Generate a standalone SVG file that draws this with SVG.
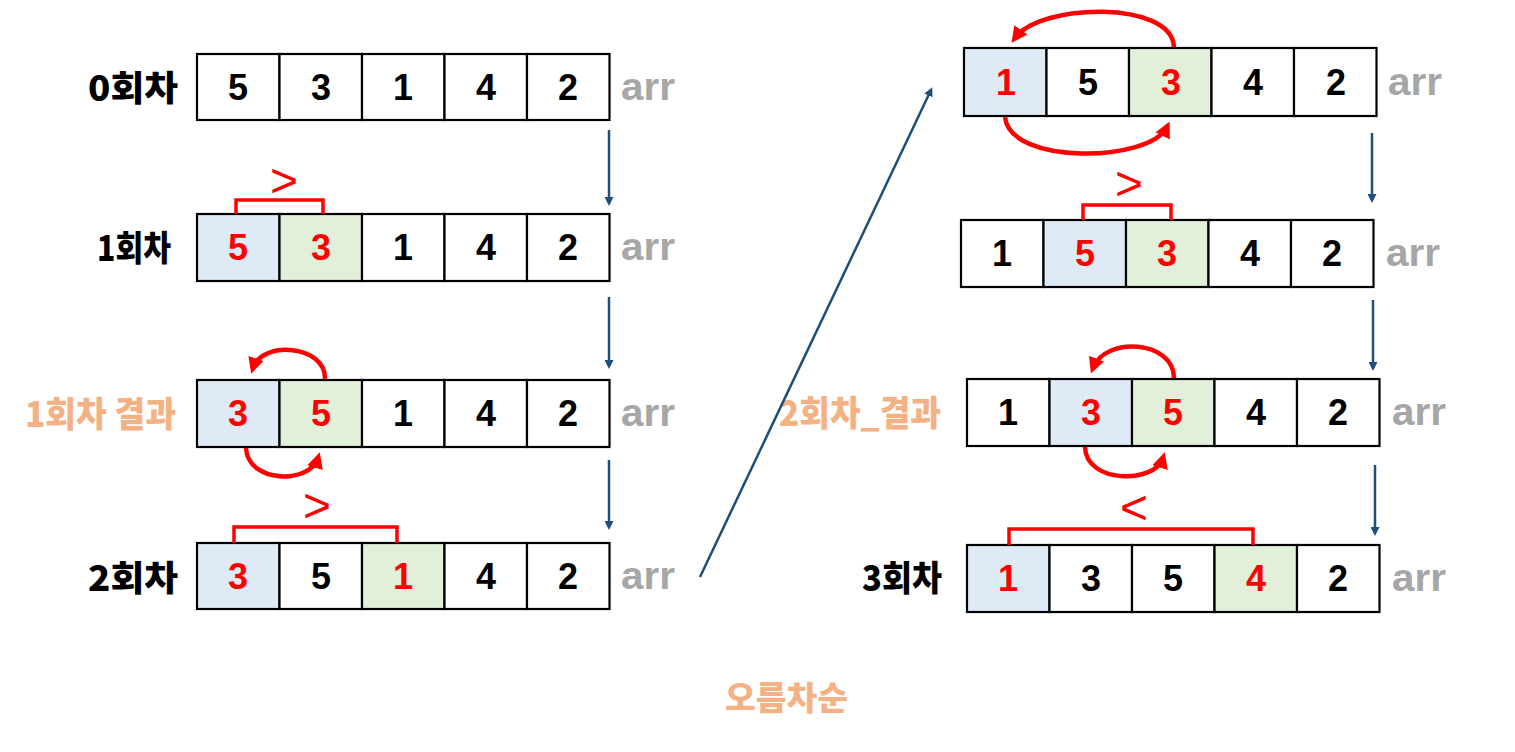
<svg xmlns="http://www.w3.org/2000/svg" width="1515" height="752" viewBox="0 0 1515 752">
<style>
.cell{fill:#fff;stroke:#000;stroke-width:2.2}
.b{fill:#DEEBF7}
.g{fill:#E2F0D9}
.n{font-family:"Liberation Sans",Arial,sans-serif;font-weight:bold;font-size:36px;text-anchor:middle;fill:#000}
.r{fill:#FF0000}
.arr{font-family:"Liberation Sans",Arial,sans-serif;font-weight:bold;font-size:38px;fill:#A6A6A6}
.lbl{font-family:"Noto Sans CJK KR","Noto Sans",sans-serif;font-weight:900;font-size:35px;text-anchor:end;fill:#000}
.or{fill:#F4B183}
.br{fill:none;stroke:#FF0000;stroke-width:3.5}
.cmp{font-family:"Liberation Sans",Arial,sans-serif;font-size:48px;text-anchor:middle;fill:#FF0000}
.sw{fill:none;stroke:#FF0000;stroke-width:4.5}
.dn{stroke:#1F4E79;stroke-width:2.5;fill:none}
</style>
<defs>
<marker id="ah" markerWidth="9" markerHeight="9" refX="6" refY="4.5" orient="auto" markerUnits="userSpaceOnUse" viewBox="0 0 9 9"><path d="M0,0 L9,4.5 L0,9 z" fill="#1F4E79"/></marker>
<marker id="rh" markerWidth="16" markerHeight="16" refX="10" refY="8" orient="auto" markerUnits="userSpaceOnUse" viewBox="0 0 16 16"><path d="M0,0 L16,8 L0,16 z" fill="#FF0000"/></marker>
</defs>

<g id="row0">
<text class="lbl" x="178" y="101" textLength="90" lengthAdjust="spacingAndGlyphs">0회차</text>
<rect class="cell" x="197" y="54" width="82.5" height="66"/><rect class="cell" x="279.5" y="54" width="82.5" height="66"/><rect class="cell" x="362" y="54" width="82.5" height="66"/><rect class="cell" x="444.5" y="54" width="82.5" height="66"/><rect class="cell" x="527" y="54" width="82.5" height="66"/>
<text class="n" x="238" y="100">5</text><text class="n" x="321" y="100">3</text><text class="n" x="403" y="100">1</text><text class="n" x="486" y="100">4</text><text class="n" x="568" y="100">2</text>
<text class="arr" x="621" y="100" textLength="54" lengthAdjust="spacingAndGlyphs">arr</text>
</g>

<g id="row1">
<text class="lbl" x="171" y="261" textLength="74" lengthAdjust="spacingAndGlyphs">1회차</text>
<rect class="cell b" x="197" y="214" width="82.5" height="67"/><rect class="cell g" x="279.5" y="214" width="82.5" height="67"/><rect class="cell" x="362" y="214" width="82.5" height="67"/><rect class="cell" x="444.5" y="214" width="82.5" height="67"/><rect class="cell" x="527" y="214" width="82.5" height="67"/>
<text class="n r" x="238" y="260">5</text><text class="n r" x="321" y="260">3</text><text class="n" x="403" y="260">1</text><text class="n" x="486" y="260">4</text><text class="n" x="568" y="260">2</text>
<text class="arr" x="621" y="260" textLength="54" lengthAdjust="spacingAndGlyphs">arr</text>
<path class="br" d="M236,214 V200 H323 V214"/>
<text class="cmp" x="284" y="197">&gt;</text>
</g>

<g id="row1result">
<text class="lbl or" x="176" y="427" textLength="151" lengthAdjust="spacingAndGlyphs">1회차 결과</text>
<rect class="cell b" x="197" y="380" width="82.5" height="67"/><rect class="cell g" x="279.5" y="380" width="82.5" height="67"/><rect class="cell" x="362" y="380" width="82.5" height="67"/><rect class="cell" x="444.5" y="380" width="82.5" height="67"/><rect class="cell" x="527" y="380" width="82.5" height="67"/>
<text class="n r" x="238" y="426">3</text><text class="n r" x="321" y="426">5</text><text class="n" x="403" y="426">1</text><text class="n" x="486" y="426">4</text><text class="n" x="568" y="426">2</text>
<text class="arr" x="621" y="426" textLength="54" lengthAdjust="spacingAndGlyphs">arr</text>
<path class="sw" d="M325,379 C326,345 262,340 253,368" marker-end="url(#rh)"/>
<path class="sw" d="M246,448 C248,484 310,484 318,458" marker-end="url(#rh)"/>
</g>

<g id="row2">
<text class="lbl" x="178" y="591" textLength="90" lengthAdjust="spacingAndGlyphs">2회차</text>
<rect class="cell b" x="197" y="543" width="82.5" height="66"/><rect class="cell" x="279.5" y="543" width="82.5" height="66"/><rect class="cell g" x="362" y="543" width="82.5" height="66"/><rect class="cell" x="444.5" y="543" width="82.5" height="66"/><rect class="cell" x="527" y="543" width="82.5" height="66"/>
<text class="n r" x="238" y="589">3</text><text class="n" x="321" y="589">5</text><text class="n r" x="403" y="589">1</text><text class="n" x="486" y="589">4</text><text class="n" x="568" y="589">2</text>
<text class="arr" x="621" y="589" textLength="54" lengthAdjust="spacingAndGlyphs">arr</text>
<path class="br" d="M234,543 V527 H397 V543"/>
<text class="cmp" x="317" y="522">&gt;</text>
</g>

<g id="rowA">
<rect class="cell b" x="964" y="48" width="82.5" height="68"/><rect class="cell" x="1046.5" y="48" width="82.5" height="68"/><rect class="cell g" x="1129" y="48" width="82.5" height="68"/><rect class="cell" x="1211.5" y="48" width="82.5" height="68"/><rect class="cell" x="1294" y="48" width="82.5" height="68"/>
<text class="n r" x="1006" y="95">1</text><text class="n" x="1088" y="95">5</text><text class="n r" x="1171" y="95">3</text><text class="n" x="1253" y="95">4</text><text class="n" x="1336" y="95">2</text>
<text class="arr" x="1388" y="95" textLength="54" lengthAdjust="spacingAndGlyphs">arr</text>
<path class="sw" d="M1174,47 C1172,0 1040,3 1015,38" marker-end="url(#rh)"/>
<path class="sw" d="M1005,117 C1010,166 1150,162 1167,127" marker-end="url(#rh)"/>
</g>

<g id="rowB">
<rect class="cell" x="961" y="220" width="82.5" height="67"/><rect class="cell b" x="1043.5" y="220" width="82.5" height="67"/><rect class="cell g" x="1126" y="220" width="82.5" height="67"/><rect class="cell" x="1208.5" y="220" width="82.5" height="67"/><rect class="cell" x="1291" y="220" width="82.5" height="67"/>
<text class="n" x="1002" y="266">1</text><text class="n r" x="1085" y="266">5</text><text class="n r" x="1167" y="266">3</text><text class="n" x="1250" y="266">4</text><text class="n" x="1332" y="266">2</text>
<text class="arr" x="1386" y="266" textLength="54" lengthAdjust="spacingAndGlyphs">arr</text>
<path class="br" d="M1083,220 V205 H1171 V220"/>
<text class="cmp" x="1129" y="200">&gt;</text>
</g>

<g id="rowC">
<text class="lbl or" x="941" y="426" textLength="162" lengthAdjust="spacingAndGlyphs">2회차_결과</text>
<rect class="cell" x="967" y="379" width="82.5" height="67"/><rect class="cell b" x="1049.5" y="379" width="82.5" height="67"/><rect class="cell g" x="1132" y="379" width="82.5" height="67"/><rect class="cell" x="1214.5" y="379" width="82.5" height="67"/><rect class="cell" x="1297" y="379" width="82.5" height="67"/>
<text class="n" x="1008" y="425">1</text><text class="n r" x="1091" y="425">3</text><text class="n r" x="1173" y="425">5</text><text class="n" x="1256" y="425">4</text><text class="n" x="1338" y="425">2</text>
<text class="arr" x="1392" y="425" textLength="54" lengthAdjust="spacingAndGlyphs">arr</text>
<path class="sw" d="M1174,378 C1174,340 1105,336 1093,368" marker-end="url(#rh)"/>
<path class="sw" d="M1085,447 C1086,484 1155,484 1163,458" marker-end="url(#rh)"/>
</g>

<g id="rowD">
<text class="lbl" x="942" y="591" textLength="80" lengthAdjust="spacingAndGlyphs">3회차</text>
<rect class="cell b" x="967" y="545" width="82.5" height="67"/><rect class="cell" x="1049.5" y="545" width="82.5" height="67"/><rect class="cell" x="1132" y="545" width="82.5" height="67"/><rect class="cell g" x="1214.5" y="545" width="82.5" height="67"/><rect class="cell" x="1297" y="545" width="82.5" height="67"/>
<text class="n r" x="1008" y="591">1</text><text class="n" x="1091" y="591">3</text><text class="n" x="1173" y="591">5</text><text class="n r" x="1256" y="591">4</text><text class="n" x="1338" y="591">2</text>
<text class="arr" x="1392" y="591" textLength="54" lengthAdjust="spacingAndGlyphs">arr</text>
<path class="br" d="M1009,545 V529 H1253 V545"/>
<text class="cmp" x="1134" y="524">&lt;</text>
</g>

<g id="connectors">
<line class="dn" x1="609" y1="130" x2="609" y2="203" marker-end="url(#ah)"/>
<line class="dn" x1="609" y1="297" x2="609" y2="366" marker-end="url(#ah)"/>
<line class="dn" x1="609" y1="460" x2="609" y2="527" marker-end="url(#ah)"/>
<line class="dn" x1="1372" y1="133" x2="1372" y2="200" marker-end="url(#ah)"/>
<line class="dn" x1="1373" y1="300" x2="1373" y2="368" marker-end="url(#ah)"/>
<line class="dn" x1="1375" y1="465" x2="1375" y2="533" marker-end="url(#ah)"/>
<line class="dn" x1="700" y1="577" x2="931" y2="90" marker-end="url(#ah)"/>
</g>

<text class="lbl or" x="848" y="710" textLength="123" lengthAdjust="spacingAndGlyphs" style="font-size:33px">오름차순</text>
</svg>
